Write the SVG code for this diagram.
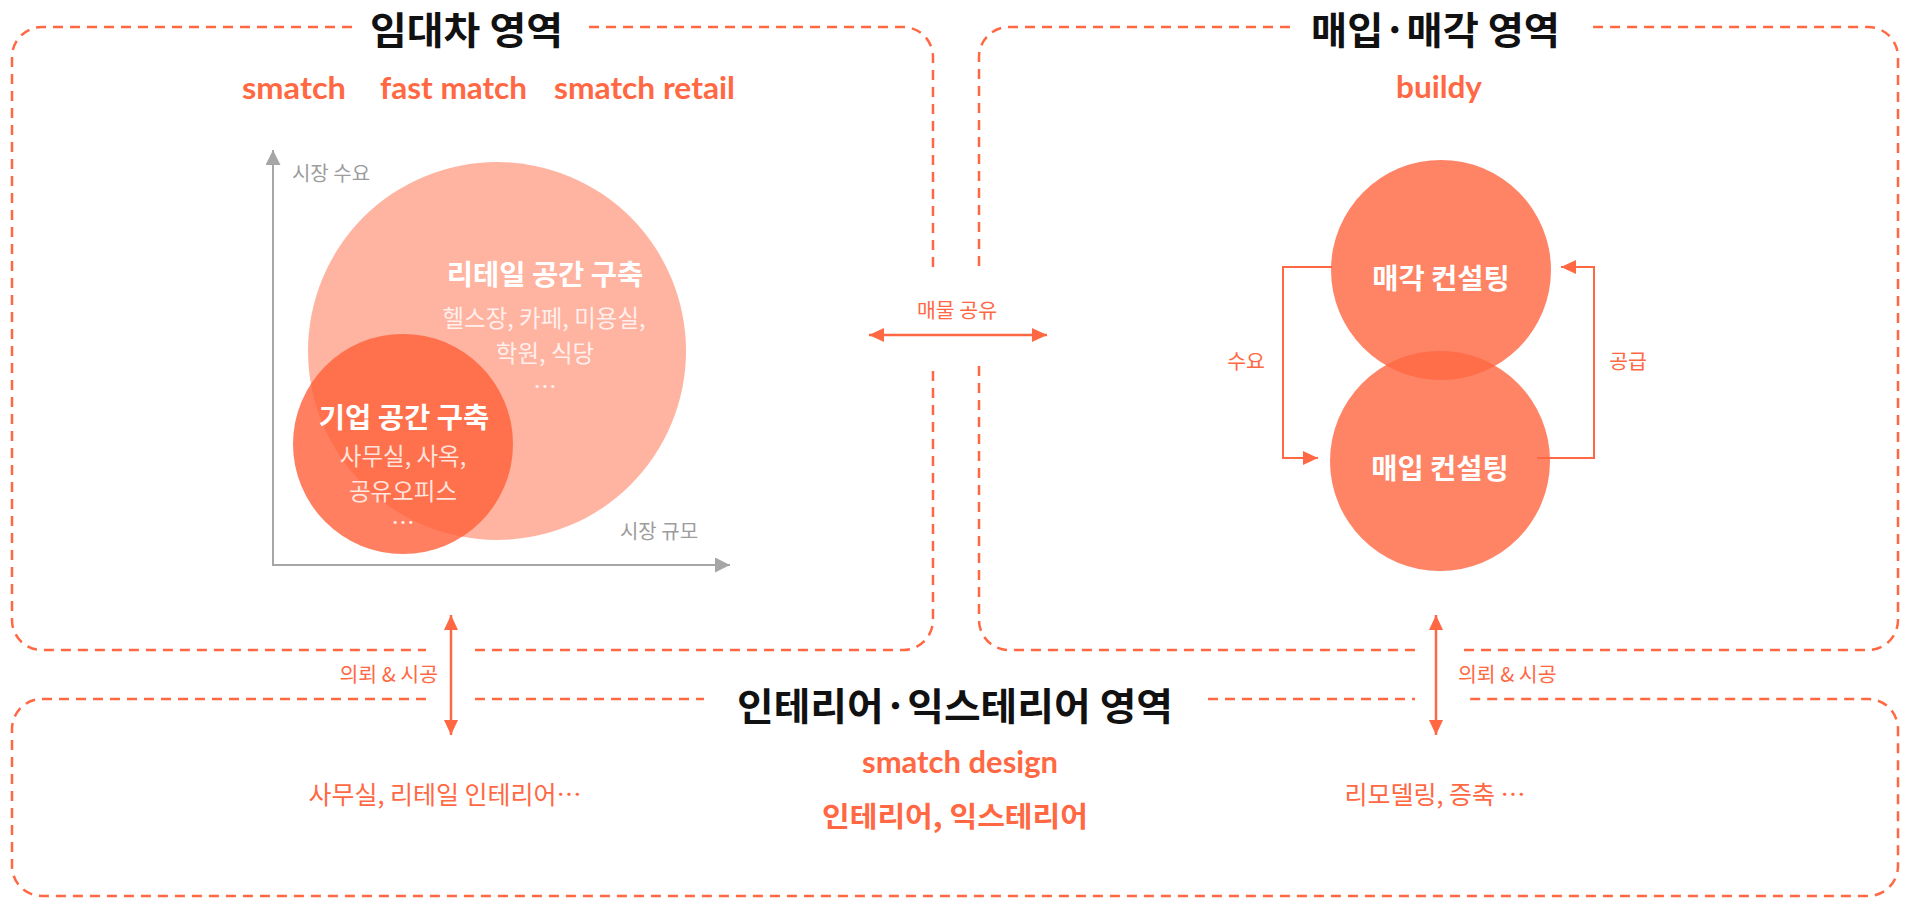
<svg xmlns="http://www.w3.org/2000/svg" width="1910" height="898" viewBox="0 0 1910 898">
<style>
.box{fill:none;stroke:#FF6843;stroke-width:2.5;stroke-dasharray:10 7}
.title{font-family:"Noto Sans CJK KR","Noto Sans",sans-serif;font-weight:700;font-size:38px;fill:#111}
.brand{font-family:Lato,"Liberation Sans",sans-serif;font-weight:700;fill:#FF6843}
.ko{font-family:"Noto Sans CJK KR","Noto Sans",sans-serif}
.or{fill:#FF6843}
.wb{fill:#fff;font-weight:700;font-size:28.5px}
.ws{fill:#fff;fill-opacity:0.82;font-size:23.5px}
.gr{fill:#9c9c9c;font-size:20px}
.lb{font-size:20.5px}
.ln{fill:none;stroke:#FF6843;stroke-width:2.5}
.ln2{fill:none;stroke:#FF6843;stroke-width:2}
.ax{fill:none;stroke:#a6a6a6;stroke-width:2}
</style>
<defs>
<marker id="ah" viewBox="0 0 15 14" refX="15" refY="7" markerWidth="15" markerHeight="14" markerUnits="userSpaceOnUse" orient="auto-start-reverse">
<path d="M0,0 L15,7 L0,14 Z" fill="#FF6843"/>
</marker>
<marker id="ag" viewBox="0 0 15 15" refX="15" refY="7.5" markerWidth="15" markerHeight="15" markerUnits="userSpaceOnUse" orient="auto">
<path d="M0,0 L15,7.5 L0,15 Z" fill="#a6a6a6"/>
</marker>
</defs>
<rect width="1910" height="898" fill="#fff"/>

<g id="box-rental">
<path class="box" d="M352 27 H42 A30 30 0 0 0 12 57 V620 A30 30 0 0 0 42 650 H426 M475 650 H903 A30 30 0 0 0 933 620 V366 M933 267 V57 A30 30 0 0 0 903 27 H588"/>
<text class="title" x="370" y="27" dominant-baseline="central" textLength="193" lengthAdjust="spacingAndGlyphs">임대차 영역</text>
<text class="brand" x="242" y="99" font-size="30" textLength="104" lengthAdjust="spacingAndGlyphs">smatch</text>
<text class="brand" x="380" y="99" font-size="30" textLength="147" lengthAdjust="spacingAndGlyphs">fast match</text>
<text class="brand" x="554" y="99" font-size="30" textLength="181" lengthAdjust="spacingAndGlyphs">smatch retail</text>
</g>

<g id="chart-axes">
<path class="ax" d="M273 565 V150" marker-end="url(#ag)"/>
<path class="ax" d="M272 565 H730" marker-end="url(#ag)"/>
<text class="ko gr" x="331" y="172" text-anchor="middle" dominant-baseline="central">시장 수요</text>
<text class="ko gr" x="659" y="530" text-anchor="middle" dominant-baseline="central">시장 규모</text>
</g>

<g id="node-retail">
<circle cx="497" cy="351" r="189" fill="#FF6843" fill-opacity="0.5"/>
<text class="ko wb" x="545" y="272" text-anchor="middle" dominant-baseline="central">리테일 공간 구축</text>
<text class="ko ws" x="544" y="317" text-anchor="middle" dominant-baseline="central">헬스장, 카페, 미용실,</text>
<text class="ko ws" x="545" y="352" text-anchor="middle" dominant-baseline="central">학원, 식당</text>
<text class="ko ws" x="545" y="385" text-anchor="middle" dominant-baseline="central" font-size="15">…</text>
</g>

<g id="node-corporate">
<circle cx="403" cy="444" r="110" fill="#FF5F38" fill-opacity="0.8"/>
<text class="ko wb" x="404" y="415" text-anchor="middle" dominant-baseline="central">기업 공간 구축</text>
<text class="ko ws" x="403" y="455" text-anchor="middle" dominant-baseline="central">사무실, 사옥,</text>
<text class="ko ws" x="403" y="490" text-anchor="middle" dominant-baseline="central">공유오피스</text>
<text class="ko ws" x="403" y="521" text-anchor="middle" dominant-baseline="central" font-size="15">…</text>
</g>

<g id="box-trade">
<path class="box" d="M1290 27 H1009 A30 30 0 0 0 979 57 V267 M979 366 V620 A30 30 0 0 0 1009 650 H1415 M1464 650 H1868 A30 30 0 0 0 1898 620 V57 A30 30 0 0 0 1868 27 H1593"/>
<text class="title" x="1311" y="27" dominant-baseline="central" textLength="249" lengthAdjust="spacingAndGlyphs">매입·매각 영역</text>
<text class="brand" x="1396" y="98" font-size="30" textLength="86" lengthAdjust="spacingAndGlyphs">buildy</text>
</g>

<g id="node-sell">
<circle cx="1441" cy="270" r="110" fill="#FF6843" fill-opacity="0.82"/>
<text class="ko wb" x="1441" y="276" text-anchor="middle" dominant-baseline="central">매각 컨설팅</text>
</g>

<g id="node-buy">
<circle cx="1440" cy="461" r="110" fill="#FF6843" fill-opacity="0.82"/>
<text class="ko wb" x="1440" y="466" text-anchor="middle" dominant-baseline="central">매입 컨설팅</text>
</g>

<g id="box-interior">
<path class="box" d="M426 699 H42 A30 30 0 0 0 12 729 V866 A30 30 0 0 0 42 896 H1868 A30 30 0 0 0 1898 866 V729 A30 30 0 0 0 1868 699 H1464 M475 699 H704 M1208 699 H1415"/>
<text class="title" x="737" y="703" dominant-baseline="central" textLength="436" lengthAdjust="spacingAndGlyphs">인테리어·익스테리어 영역</text>
<text class="brand" x="862" y="773" font-size="31" textLength="196" lengthAdjust="spacingAndGlyphs">smatch design</text>
<text class="ko or" x="822" y="815" dominant-baseline="central" font-size="28" font-weight="700" textLength="266" lengthAdjust="spacingAndGlyphs">인테리어, 익스테리어</text>
<text class="ko or" x="445" y="793" text-anchor="middle" dominant-baseline="central" font-size="25">사무실, 리테일 인테리어…</text>
<text class="ko or" x="1435" y="793" text-anchor="middle" dominant-baseline="central" font-size="25">리모델링, 증축 …</text>
</g>

<g id="connectors">
<path class="ln" d="M869 335 H1047" marker-start="url(#ah)" marker-end="url(#ah)"/>
<text class="ko or lb" x="957" y="309" text-anchor="middle" dominant-baseline="central">매물 공유</text>
<path class="ln" d="M451 615 V735" marker-start="url(#ah)" marker-end="url(#ah)"/>
<text class="ko or lb" x="438" y="673" text-anchor="end" dominant-baseline="central">의뢰 &amp; 시공</text>
<path class="ln" d="M1436 615 V735" marker-start="url(#ah)" marker-end="url(#ah)"/>
<text class="ko or lb" x="1458" y="673" dominant-baseline="central">의뢰 &amp; 시공</text>
<path class="ln2" d="M1332 267 H1283 V458 H1318" marker-end="url(#ah)"/>
<text class="ko or lb" x="1246" y="360" text-anchor="middle" dominant-baseline="central">수요</text>
<path class="ln2" d="M1537 458 H1594 V267 H1561" marker-end="url(#ah)"/>
<text class="ko or lb" x="1628" y="360" text-anchor="middle" dominant-baseline="central">공급</text>
</g>
</svg>
